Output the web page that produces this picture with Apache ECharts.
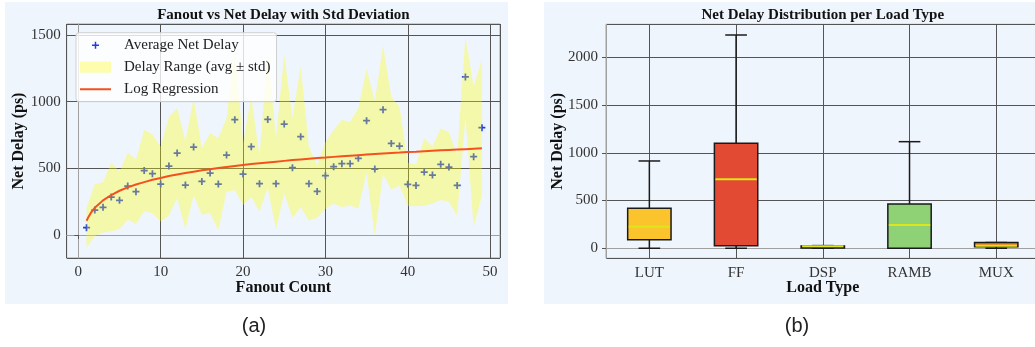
<!DOCTYPE html>
<html><head><meta charset="utf-8">
<script src="https://cdn.jsdelivr.net/npm/echarts@6/dist/echarts.min.js"></script>
<style>html,body{margin:0;padding:0;background:#fff;overflow:hidden;width:1035px;height:347px;} #c{width:1045px;height:347px;}</style>
</head><body><div id="c"></div>
<script>
// ---------- data: left chart ----------
const fanout = [1,2,3,4,5,6,7,8,9,10,11,12,13,14,15,16,17,18,19,20,21,22,23,24,25,26,27,28,29,30,31,32,33,34,35,36,37,38,39,40,41,42,43,44,45,46,47,48,49];
const avgDelay = [55,187,208,285,260,367,325,483,460,382,517,615,375,660,402,465,382,600,865,457,662,385,867,385,832,505,737,385,327,445,512,535,535,575,857,495,940,687,667,380,372,472,450,530,510,372,1185,587,805];
const stdDelay = [152,195,188,257,217,250,242,305,296,280,370,337,330,362,250,300,345,275,530,231,375,210,512,343,519,375,531,275,197,250,275,327,312,377,389,506,483,347,296,162,157,253,213,268,261,229,302,525,513];
const regX = [1,1.25,1.5,1.75,2,3,4,5,6,7,8,9,10,11,12,13,14,15,16,17,18,19,20,21,22,23,24,25,26,27,28,29,30,31,32,33,34,35,36,37,38,39,40,41,42,43,44,45,46,47,48,49];
const regY = [107,138,164,185,204,260,300,332,357,379,397,414,428,442,454,465,475,485,494,502,510,518,525,532,538,544,550,556,562,567,572,577,581,586,591,595,599,603,607,611,615,618,622,625,629,632,635,638,641,644,647,650];
// ---------- data: right chart ----------
const loadTypes = ['LUT','FF','DSP','RAMB','MUX'];
const whiskerLow = [0,0,0,0,0];
const q1 = [90,27,2,0,17];
const median = [226,722,22,244,27];
const q3 = [419,1099,25,464,60];
const whiskerHigh = [914,2233,28,1116,60];
const boxColors = ['#fcc42c','#e34a33','#3a66c4','#8fd175','#f07d22'];

const SERIF = 'Liberation Serif';
const gridColor = '#555555';
const spineColor = '#a0a0a0';
const bandFill = 'rgba(255,255,0,0.32)';
const regColor = '#f4511e';
const markerColor = '#1e3ce6';
const plusPath = 'path://M3,0h2v3h3v2h-3v3h-2v-3h-3v-2h3z';
const plusLegend = 'path://M0,0h0.05v0.05h-0.05z M31,11h-0.05v-0.05h0.05z M14.75,2h1.5v2.75h2.75v1.5h-2.75v2.75h-1.5v-2.75h-2.75v-1.5h2.75z';
const lineLegend = 'path://M0,0h0.05v0.05h-0.05z M31,11h-0.05v-0.05h0.05z M0,4.5h31v2h-31z';

const chart = echarts.init(document.getElementById('c'), null, {renderer:'canvas'});

function axisCommon(){
  return {
    axisLine:{show:true, lineStyle:{color:spineColor, width:1}},
    axisTick:{show:true, length:4, lineStyle:{color:gridColor}},
    splitLine:{show:true, lineStyle:{color:gridColor, width:1}},
    axisLabel:{fontFamily:SERIF, fontSize:15, color:'#333', showMinLabel:false, showMaxLabel:false,
      formatter:function(v){ return String(v); }}
  };
}

const option = {
  animation:false,
  backgroundColor:'#ffffff',
  grid:[
    {left:66.7, top:24, width:433.3, height:234, show:true, borderColor:spineColor, borderWidth:1, backgroundColor:'transparent'},
    {left:606, top:24.3, width:433.6, height:234, show:true, borderColor:spineColor, borderWidth:1, backgroundColor:'transparent'}
  ],
  xAxis:[
    Object.assign(axisCommon(), {type:'value', gridIndex:0, min:-1.41, max:51.2, splitNumber:5}),
    Object.assign(axisCommon(), {type:'value', gridIndex:1, min:0.5, max:5.5, splitNumber:5})
  ],
  yAxis:[
    Object.assign(axisCommon(), {type:'value', gridIndex:0, min:-172, max:1582, splitNumber:3}),
    Object.assign(axisCommon(), {type:'value', gridIndex:1, min:-105, max:2345, splitNumber:5})
  ],
  legend:{
    left:76, top:32.7, orient:'vertical',
    backgroundColor:'rgba(255,255,255,0.8)', borderColor:'#d0d0d0', borderWidth:1, borderRadius:3,
    padding:[5,6,5,4], itemGap:7, itemWidth:31, itemHeight:11,
    textStyle:{fontFamily:SERIF, fontSize:15, color:'#222', padding:[0,0,0,8]},
    selectedMode:false,
    data:[
      {name:'Average Net Delay', icon:plusLegend, itemStyle:{color:markerColor, opacity:1}},
      {name:'Delay Range (avg ± std)', icon:'rect', itemStyle:{color:bandFill}},
      {name:'Log Regression', icon:lineLegend, itemStyle:{color:regColor}}
    ]
  },
  graphic:[
    {type:'rect', z:-10, shape:{x:5, y:2, width:503, height:302}, style:{fill:'#eff5fd'}},
    {type:'rect', z:-10, shape:{x:544, y:2, width:501, height:302}, style:{fill:'#eff5fd'}},
    {type:'text', x:283.4, y:15.5, style:{text:'Fanout vs Net Delay with Std Deviation', font:'bold 15px "Liberation Serif"', fill:'#111', align:'center', verticalAlign:'middle'}},
    {type:'text', x:822.8, y:15.5, style:{text:'Net Delay Distribution per Load Type', font:'bold 15px "Liberation Serif"', fill:'#111', align:'center', verticalAlign:'middle'}},
    {type:'text', x:283.4, y:287.5, style:{text:'Fanout Count', font:'bold 16px "Liberation Serif"', fill:'#111', align:'center', verticalAlign:'middle'}},
    {type:'text', x:822.8, y:287.5, style:{text:'Load Type', font:'bold 16px "Liberation Serif"', fill:'#111', align:'center', verticalAlign:'middle'}},
    {type:'text', x:19, y:141, rotation:Math.PI/2, style:{text:'Net Delay (ps)', font:'bold 16px "Liberation Serif"', fill:'#111', align:'center', verticalAlign:'middle'}},
    {type:'text', x:558, y:141.3, rotation:Math.PI/2, style:{text:'Net Delay (ps)', font:'bold 16px "Liberation Serif"', fill:'#111', align:'center', verticalAlign:'middle'}},
    {type:'text', x:254, y:326, style:{text:'(a)', font:'20px "Liberation Sans"', fill:'#222', align:'center', verticalAlign:'middle'}},
    {type:'text', x:797, y:326, style:{text:'(b)', font:'20px "Liberation Sans"', fill:'#222', align:'center', verticalAlign:'middle'}}
  ],
  series:[
    {
      name:'Average Net Delay', type:'scatter', xAxisIndex:0, yAxisIndex:0, z:1,
      symbol:plusPath, symbolSize:7, itemStyle:{color:markerColor, opacity:1},
      data:fanout.map((x,i)=>[x, avgDelay[i]])
    },
    {
      name:'Delay Range (avg ± std)', type:'custom', xAxisIndex:0, yAxisIndex:0, z:2,
      itemStyle:{color:bandFill},
      encode:{x:0, y:[1,2]},
      data:fanout.map((x,i)=>[x, avgDelay[i]-stdDelay[i], avgDelay[i]+stdDelay[i]]),
      renderItem:function(params, api){
        if (params.dataIndex !== 0) return null;
        const n = params.dataInsideLength;
        const upper = [], lower = [];
        for (let i = 0; i < n; i++) {
          const x = api.value(0, i);
          upper.push(api.coord([x, api.value(2, i)]));
          lower.push(api.coord([x, api.value(1, i)]));
        }
        return {type:'polygon', shape:{points:upper.concat(lower.reverse())}, style:{fill:bandFill}};
      }
    },
    {
      name:'Log Regression', type:'line', xAxisIndex:0, yAxisIndex:0, z:3,
      symbol:'none', showSymbol:false,
      itemStyle:{color:regColor}, lineStyle:{color:regColor, width:2},
      data:regX.map((x,i)=>[x, regY[i]])
    },
    {
      name:'boxes', type:'custom', xAxisIndex:1, yAxisIndex:1, clip:false,
      encode:{x:0, y:[1,5]},
      data:loadTypes.map((t,i)=>[i+1, whiskerLow[i], q1[i], median[i], q3[i], whiskerHigh[i]]),
      renderItem:function(params, api){
        const pos = api.value(0);
        const lo = api.coord([pos, api.value(1)]);
        const a = api.coord([pos, api.value(2)]);
        const m = api.coord([pos, api.value(3)]);
        const b = api.coord([pos, api.value(4)]);
        const hi = api.coord([pos, api.value(5)]);
        const hb = api.size([0.5, 0])[0]/2;
        const hc = api.size([0.25, 0])[0]/2;
        const x = a[0];
        const ls = {stroke:'#1a1a1a', lineWidth:1.5};
        return {type:'group', children:[
          {type:'line', shape:{x1:x, y1:a[1], x2:x, y2:lo[1]}, style:ls},
          {type:'line', shape:{x1:x, y1:b[1], x2:x, y2:hi[1]}, style:ls},
          {type:'line', shape:{x1:x-hc, y1:lo[1], x2:x+hc, y2:lo[1]}, style:ls},
          {type:'line', shape:{x1:x-hc, y1:hi[1], x2:x+hc, y2:hi[1]}, style:ls},
          {type:'rect', shape:{x:x-hb, y:b[1], width:2*hb, height:a[1]-b[1]}, style:{fill:boxColors[params.dataIndex], stroke:'#1a1a1a', lineWidth:1.5}},
          {type:'line', shape:{x1:x-hb+1, y1:m[1], x2:x+hb-1, y2:m[1]}, style:{stroke:'#dde61a', lineWidth:2}}
        ]};
      }
    }
  ]
};
option.xAxis[1].axisLabel.formatter = function(v){
  const k = Math.round(v);
  return (Math.abs(v-k) < 1e-6 && k>=1 && k<=loadTypes.length) ? loadTypes[k-1] : '';
};
option.xAxis[0].axisLabel.margin = 7;
option.xAxis[1].axisLabel.margin = 7;
option.yAxis[0].axisLabel.margin = 6;
option.yAxis[1].axisLabel.margin = 8;
chart.setOption(option);
</script>
</body></html>
